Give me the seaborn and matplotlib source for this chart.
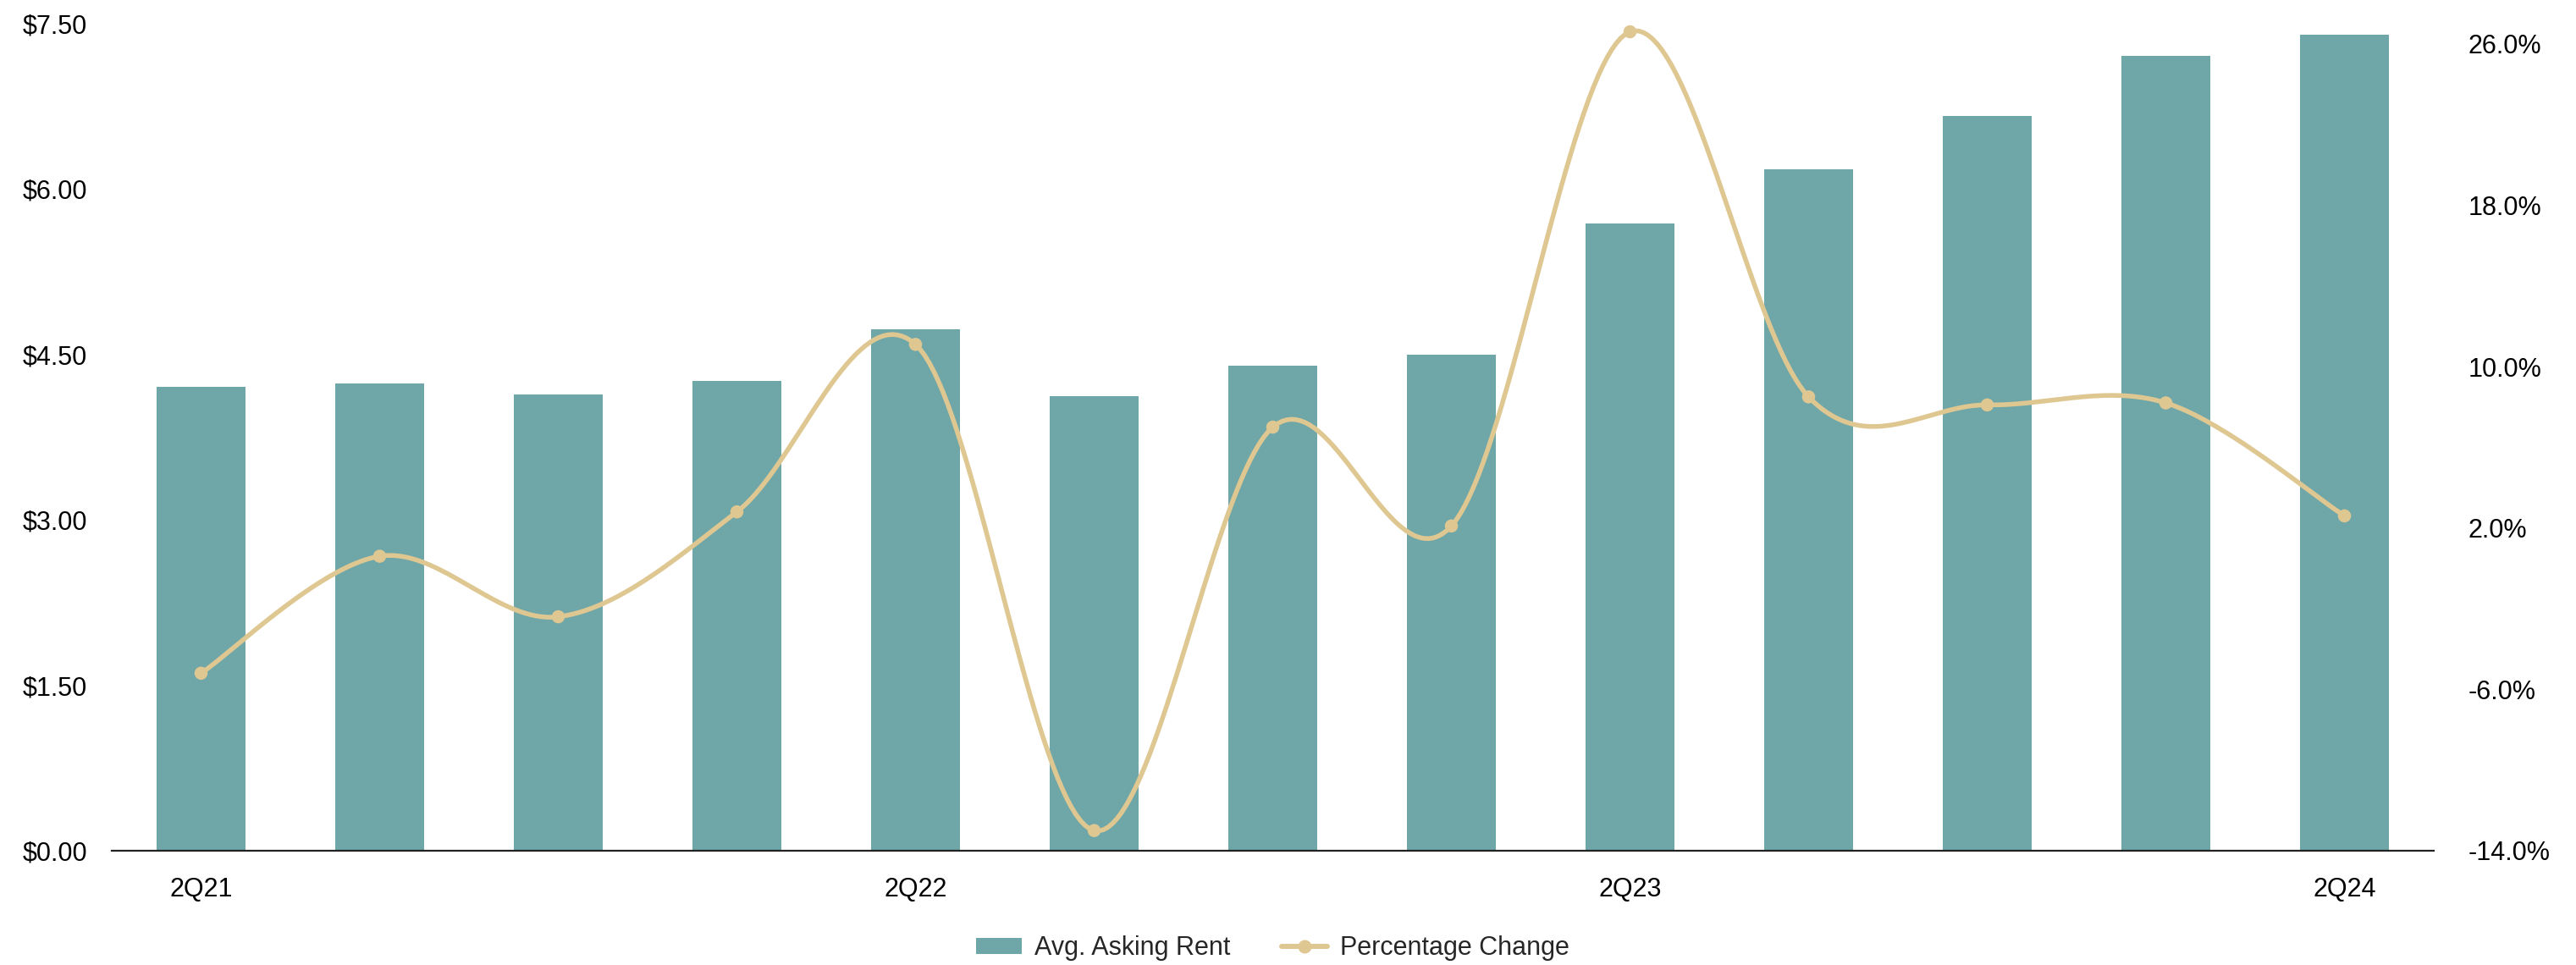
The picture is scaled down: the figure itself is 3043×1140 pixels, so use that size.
import numpy as np
import pandas as pd
import matplotlib
matplotlib.use("Agg")
import matplotlib.pyplot as plt
from matplotlib.patches import Patch
from matplotlib.lines import Line2D
from matplotlib.ticker import FuncFormatter, FixedLocator
import seaborn as sns

# Quarterly data
quarters = ["2Q21", "3Q21", "4Q21", "1Q22", "2Q22", "3Q22", "4Q22",
            "1Q23", "2Q23", "3Q23", "4Q23", "1Q24", "2Q24"]
asking_rent = [4.21, 4.24, 4.14, 4.26, 4.73, 4.12, 4.40,
               4.50, 5.69, 6.18, 6.66, 7.21, 7.40]
pct_change = [-5.2, 0.6, -2.4, 2.8, 11.1, -13.0, 7.0,
              2.1, 26.6, 8.5, 8.1, 8.2, 2.6]
shown_labels = ["2Q21", "2Q22", "2Q23", "2Q24"]

BAR_COLOR = "#6FA6A7"
LINE_COLOR = "#DFC792"

sns.set_style("white")
plt.rcParams["font.family"] = ["Liberation Sans", "DejaVu Sans"]
FS = 22

W, H = 3043, 1140
fig = plt.figure(figsize=(W / 100, H / 100), dpi=100)
left_px, right_px, top_px, bottom_px = 132, 2875, 28, 1005
fig.subplots_adjust(left=left_px / W, right=right_px / W,
                    top=1 - top_px / H, bottom=1 - bottom_px / H)
ax = fig.add_subplot(111)

df = pd.DataFrame({"quarter": quarters, "rent": asking_rent})
sns.barplot(data=df, x="quarter", y="rent", color=BAR_COLOR, saturation=1,
            width=0.5, ax=ax, edgecolor="none")

ax.set_xlim(-0.5, len(quarters) - 0.5)
ax.set_ylim(0, 7.5)
ax.yaxis.set_major_locator(FixedLocator(np.arange(0, 7.51, 1.5)))
ax.yaxis.set_major_formatter(FuncFormatter(lambda v, _: f"${v:.2f}"))
ax.set_xticks(range(len(quarters)))
ax.set_xticklabels([q if q in shown_labels else "" for q in quarters])
ax.set_xlabel("")
ax.set_ylabel("")
ax.tick_params(axis="both", length=0, labelsize=FS, colors="black")
ax.tick_params(axis="y", pad=21)
ax.tick_params(axis="x", pad=22)
for s in ["top", "right", "left"]:
    ax.spines[s].set_visible(False)
ax.spines["bottom"].set_color("#222222")
ax.spines["bottom"].set_linewidth(1.6)
ax.grid(False)

# Smoothed percentage-change line on the secondary axis
ax2 = ax.twinx()
x = np.arange(len(pct_change), dtype=float)
y = np.array(pct_change, dtype=float)
px = np.concatenate([[x[0]], x, [x[-1]]])
py = np.concatenate([[y[0]], y, [y[-1]]])
xs, ys = [], []
t = np.linspace(0, 1, 40)
for i in range(len(x) - 1):
    p0 = np.array([px[i + 1], py[i + 1]])
    p3 = np.array([px[i + 2], py[i + 2]])
    c1 = p0 + (np.array([px[i + 2], py[i + 2]]) - np.array([px[i], py[i]])) / 6
    c2 = p3 - (np.array([px[i + 3], py[i + 3]]) - np.array([px[i + 1], py[i + 1]])) / 6
    b = ((1 - t) ** 3)[:, None] * p0 + (3 * (1 - t) ** 2 * t)[:, None] * c1 \
        + (3 * (1 - t) * t ** 2)[:, None] * c2 + (t ** 3)[:, None] * p3
    if i > 0:
        b = b[1:]
    xs.extend(b[:, 0])
    ys.extend(b[:, 1])

sns.lineplot(x=xs, y=ys, ax=ax2, color=LINE_COLOR, linewidth=4.0, sort=False,
             estimator=None)
sns.scatterplot(x=x, y=y, ax=ax2, color=LINE_COLOR, s=125, edgecolor="none",
                zorder=5)

ax2.set_ylim(-14, 27.0)
ax2.yaxis.set_major_locator(FixedLocator(np.arange(-14, 26.1, 8)))
ax2.yaxis.set_major_formatter(FuncFormatter(lambda v, _: f"{v:.1f}%"))
ax2.tick_params(axis="y", length=0, labelsize=FS, pad=29, colors="black")
ax2.set_ylabel("")
for s in ["top", "right", "left", "bottom"]:
    ax2.spines[s].set_visible(False)
ax2.grid(False)
ax.set_xlim(-0.5, len(quarters) - 0.5)

handles = [
    Patch(facecolor=BAR_COLOR, edgecolor="none", label="Avg. Asking Rent"),
    Line2D([0], [0], color=LINE_COLOR, linewidth=4.3, marker="o",
           markersize=10.5, label="Percentage Change"),
]
fig.legend(handles=handles, loc="center", ncol=2, frameon=False,
           fontsize=22, handlelength=1.75, handleheight=0.6,
           handletextpad=0.5, columnspacing=2.0,
           bbox_to_anchor=((left_px + right_px) / 2 / W, 1 - 1120 / H))

fig.savefig("out.png", dpi=100)
